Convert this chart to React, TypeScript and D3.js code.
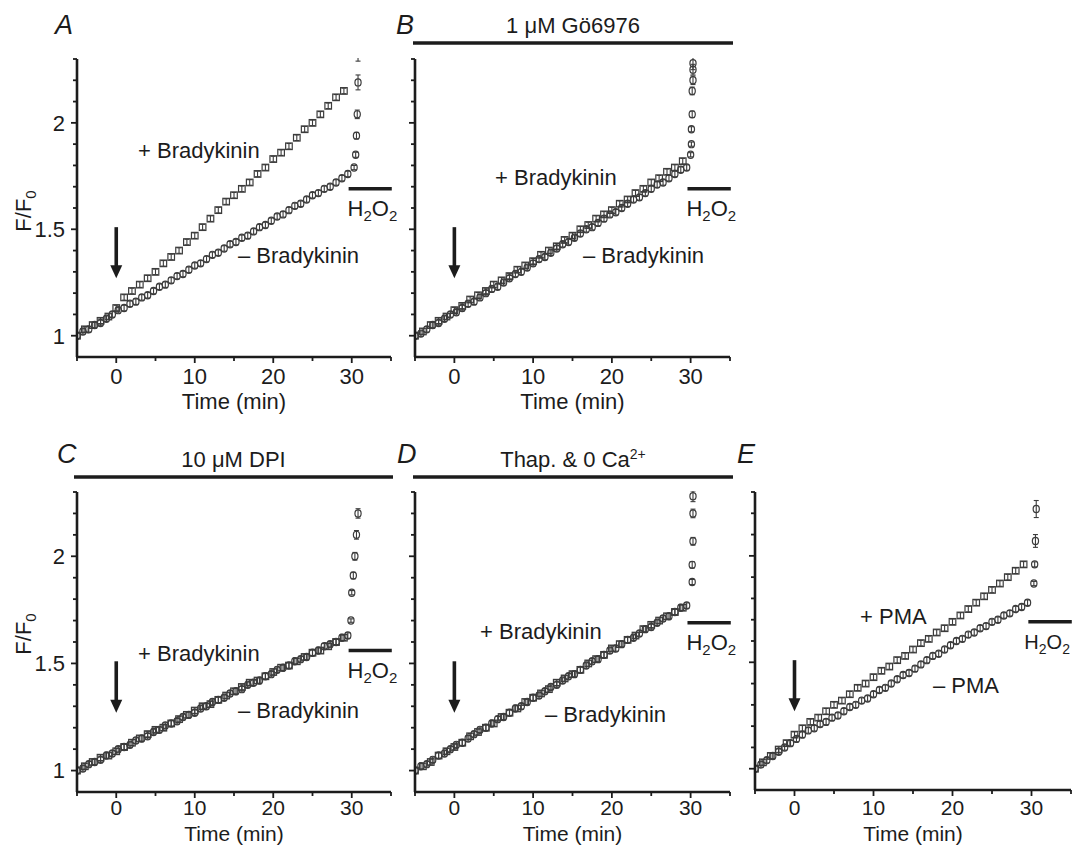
import React from "react";
import * as d3 from "d3";

// sampling grids (min)
const sqTimes = [-5, -4, -3, -2, -1, 0, 1, 2, 3, 4, 5, 6, 7, 8, 9, 10, 11, 12, 13, 14, 15, 16, 17, 18, 19, 20, 21, 22, 23, 24, 25, 26, 27, 28, 29];
const ciTimes = [-5, -4.25, -3.5, -2.75, -2, -1.25, -0.5, 0.25, 1, 1.75, 2.5, 3.25, 4, 4.75, 5.5, 6.25, 7, 7.75, 8.5, 9.25, 10, 10.75, 11.5, 12.25, 13, 13.75, 14.5, 15.25, 16, 16.75, 17.5, 18.25, 19, 19.75, 20.5, 21.25, 22, 22.75, 23.5, 24.25, 25, 25.75, 26.5, 27.25, 28, 28.75, 29.5];

const xTicks = [-5, 0, 5, 10, 15, 20, 25, 30, 35];
const xTickLabels = [0, 10, 20, 30];
const yTicks = [1.0, 1.1, 1.2, 1.3, 1.4, 1.5, 1.6, 1.7, 1.8, 1.9, 2.0, 2.1, 2.2, 2.3];
const yTickLabels = [1, 1.5, 2];
const baseErr = 0.013;

// A
const aSq = [1.00, 1.03, 1.05, 1.07, 1.09, 1.13, 1.18, 1.21, 1.24, 1.27, 1.30, 1.34, 1.37, 1.40, 1.44, 1.47, 1.51, 1.55, 1.59, 1.63, 1.66, 1.69, 1.72, 1.76, 1.79, 1.83, 1.86, 1.89, 1.93, 1.97, 2.00, 2.04, 2.08, 2.12, 2.15];
const aCi = [1.00, 1.02, 1.03, 1.05, 1.06, 1.08, 1.10, 1.12, 1.13, 1.15, 1.16, 1.18, 1.19, 1.21, 1.23, 1.24, 1.26, 1.28, 1.29, 1.31, 1.33, 1.34, 1.36, 1.38, 1.39, 1.41, 1.43, 1.44, 1.46, 1.47, 1.49, 1.51, 1.52, 1.54, 1.56, 1.57, 1.59, 1.61, 1.62, 1.64, 1.66, 1.67, 1.69, 1.70, 1.72, 1.74, 1.76];
const aColT = [30.3, 30.5, 30.6, 30.7, 30.8, 30.8];
const aColV = [1.79, 1.85, 1.94, 2.04, 2.19, 2.40];
const aColE = [0.01, 0.012, 0.015, 0.02, 0.035, 0.11];

// B
const bSq = [1.00, 1.02, 1.05, 1.07, 1.09, 1.12, 1.14, 1.17, 1.19, 1.21, 1.24, 1.26, 1.28, 1.31, 1.33, 1.35, 1.38, 1.40, 1.42, 1.45, 1.47, 1.50, 1.52, 1.55, 1.57, 1.59, 1.62, 1.64, 1.67, 1.69, 1.72, 1.74, 1.77, 1.79, 1.82];
const bCi = [1.00, 1.01, 1.03, 1.05, 1.06, 1.08, 1.10, 1.11, 1.13, 1.15, 1.16, 1.18, 1.20, 1.22, 1.23, 1.25, 1.27, 1.29, 1.30, 1.32, 1.34, 1.36, 1.37, 1.39, 1.41, 1.43, 1.44, 1.46, 1.48, 1.50, 1.51, 1.53, 1.55, 1.57, 1.58, 1.60, 1.62, 1.64, 1.65, 1.67, 1.69, 1.71, 1.72, 1.74, 1.76, 1.78, 1.79];
const bColT = [30.0, 30.1, 30.1, 30.2, 30.2, 30.3, 30.3, 30.3];
const bColV = [1.85, 1.90, 1.97, 2.04, 2.15, 2.20, 2.25, 2.28];
const bColE = [0.01, 0.01, 0.012, 0.015, 0.018, 0.02, 0.025, 0.03];

// C
const cSq = [1.00, 1.02, 1.04, 1.06, 1.07, 1.09, 1.11, 1.13, 1.15, 1.17, 1.19, 1.20, 1.22, 1.24, 1.26, 1.28, 1.30, 1.31, 1.33, 1.35, 1.37, 1.39, 1.41, 1.42, 1.44, 1.46, 1.48, 1.49, 1.51, 1.53, 1.55, 1.56, 1.58, 1.60, 1.62];
const cCi = [1.00, 1.01, 1.03, 1.04, 1.05, 1.07, 1.08, 1.10, 1.11, 1.12, 1.14, 1.15, 1.16, 1.18, 1.19, 1.21, 1.22, 1.23, 1.25, 1.26, 1.27, 1.29, 1.30, 1.32, 1.33, 1.34, 1.36, 1.37, 1.38, 1.40, 1.41, 1.42, 1.44, 1.45, 1.47, 1.48, 1.49, 1.51, 1.52, 1.53, 1.55, 1.56, 1.58, 1.59, 1.60, 1.62, 1.63];
const cColT = [29.9, 30.0, 30.2, 30.4, 30.6, 30.8];
const cColV = [1.70, 1.83, 1.91, 2.00, 2.10, 2.20];
const cColE = [0.008, 0.01, 0.015, 0.018, 0.02, 0.022];

// D
const dSq = [1.00, 1.02, 1.04, 1.07, 1.09, 1.11, 1.13, 1.16, 1.18, 1.20, 1.22, 1.25, 1.27, 1.29, 1.32, 1.34, 1.36, 1.38, 1.41, 1.43, 1.45, 1.47, 1.50, 1.52, 1.54, 1.57, 1.59, 1.61, 1.63, 1.66, 1.68, 1.70, 1.72, 1.74, 1.76];
const dCi = [1.00, 1.02, 1.03, 1.05, 1.07, 1.08, 1.10, 1.12, 1.13, 1.15, 1.17, 1.19, 1.20, 1.22, 1.24, 1.25, 1.27, 1.29, 1.30, 1.32, 1.34, 1.35, 1.37, 1.39, 1.40, 1.42, 1.44, 1.45, 1.47, 1.49, 1.51, 1.52, 1.54, 1.56, 1.57, 1.59, 1.61, 1.62, 1.64, 1.66, 1.67, 1.69, 1.71, 1.72, 1.74, 1.76, 1.77];
const dColT = [30.2, 30.2, 30.3, 30.3, 30.3];
const dColV = [1.88, 1.96, 2.07, 2.20, 2.28];
const dColE = [0.012, 0.015, 0.018, 0.02, 0.025];

// E
const eSq = [1.00, 1.03, 1.06, 1.09, 1.12, 1.16, 1.19, 1.22, 1.24, 1.27, 1.30, 1.32, 1.35, 1.38, 1.40, 1.43, 1.46, 1.48, 1.51, 1.53, 1.56, 1.59, 1.61, 1.64, 1.66, 1.69, 1.72, 1.75, 1.78, 1.81, 1.84, 1.87, 1.90, 1.93, 1.96];
const eCi = [1.00, 1.02, 1.04, 1.06, 1.08, 1.10, 1.12, 1.14, 1.16, 1.18, 1.19, 1.21, 1.22, 1.24, 1.25, 1.27, 1.29, 1.30, 1.32, 1.33, 1.35, 1.37, 1.38, 1.40, 1.42, 1.44, 1.45, 1.47, 1.49, 1.51, 1.53, 1.54, 1.56, 1.58, 1.60, 1.61, 1.63, 1.64, 1.66, 1.67, 1.69, 1.70, 1.72, 1.73, 1.75, 1.76, 1.78];
const eColT = [30.3, 30.4, 30.5, 30.6];
const eColV = [1.87, 1.96, 2.07, 2.22];
const eColE = [0.01, 0.012, 0.03, 0.04];

const FONT = "'Liberation Sans', Arial, Helvetica, sans-serif";
const INK = "#1c1c1c";
const MARK = "#3c3c3c";
const FS = 22;

type Pt = { t: number; v: number; e: number };
const zipPts = (ts: number[], vs: number[], es?: number[]): Pt[] =>
  vs.map((v, i) => ({ t: ts[i], v, e: es ? es[i] : baseErr }));

function Sub({ children }: { children: string }) {
  return <tspan dy={5} fontSize={15}>{children}</tspan>;
}

function H2O2({ small }: { small?: boolean }) {
  const s = small ? 14 : 15;
  return (
    <>
      H<tspan dy={5} fontSize={s}>2</tspan>
      <tspan dy={-5}>O</tspan>
      <tspan dy={5} fontSize={s}>2</tspan>
    </>
  );
}

function Panel({ cfg }: { cfg: any }) {
  const { id, left, right, top, bottom } = cfg;
  const x = d3.scaleLinear().domain([-5, 35]).range([left, right]);
  const y = d3.scaleLinear().domain([0.9, 2.3]).range([bottom, top]);
  const sq: Pt[] = zipPts(sqTimes, cfg.sq);
  const ci: Pt[] = zipPts(ciTimes, cfg.ci).concat(zipPts(cfg.colT, cfg.colV, cfg.colE));

  const err = (p: Pt, k: string) => (
    <g key={k} stroke={MARK} strokeWidth={1.1}>
      <line x1={x(p.t)} x2={x(p.t)} y1={y(p.v - p.e)} y2={y(p.v + p.e)} />
      <line x1={x(p.t) - 2.5} x2={x(p.t) + 2.5} y1={y(p.v - p.e)} y2={y(p.v - p.e)} />
      <line x1={x(p.t) - 2.5} x2={x(p.t) + 2.5} y1={y(p.v + p.e)} y2={y(p.v + p.e)} />
    </g>
  );

  const arrowTop = y(1.51);
  const arrowTip = y(1.27);
  const ax = x(0);
  const hx = x(29.6) - 1 - (cfg.h2o2Shift || 0);
  const tfs = cfg.lowRow ? 21 : FS;

  return (
    <g fontFamily={FONT} fill={INK}>
      <defs>
        <clipPath id={`clip-${id}`}>
          <rect x={left} y={top - 1} width={right - left + 10} height={bottom - top} />
        </clipPath>
      </defs>

      {/* panel letter */}
      <text x={cfg.letterX} y={cfg.letterY} fontSize={27} fontStyle="italic">{id}</text>

      {/* treatment bar */}
      {cfg.bar && (
        <g>
          <line x1={cfg.bar.x1} x2={cfg.bar.x2} y1={cfg.bar.y} y2={cfg.bar.y} stroke={INK} strokeWidth={3.5} />
          <text x={(cfg.bar.x1 + cfg.bar.x2) / 2} y={cfg.bar.y - 10} fontSize={FS} textAnchor="middle">{cfg.bar.label}</text>
        </g>
      )}

      {/* data */}
      <g clipPath={`url(#clip-${id})`}>
        {sq.map((p, i) => (
          <g key={`s${i}`}>
            <rect x={x(p.t) - 3.3} y={y(p.v) - 3.3} width={6.6} height={6.6} fill="none" stroke={MARK} strokeWidth={1.2} />
            {err(p, `se${i}`)}
          </g>
        ))}
        {ci.map((p, i) => (
          <g key={`c${i}`}>
            <ellipse cx={x(p.t)} cy={y(p.v)} rx={3.1} ry={3.6} fill="none" stroke={MARK} strokeWidth={1.2} />
            {err(p, `ce${i}`)}
          </g>
        ))}
      </g>

      {/* axes */}
      <line x1={left} x2={left} y1={top} y2={bottom} stroke={INK} strokeWidth={2.6} />
      <line x1={left - 1} x2={right} y1={bottom} y2={bottom} stroke={INK} strokeWidth={2.6} />
      {yTicks.map((v) => {
        const major = yTickLabels.includes(v);
        return <line key={`yt${v}`} x1={left - (major ? 6 : 4)} x2={left} y1={y(v)} y2={y(v)} stroke={INK} strokeWidth={1.8} />;
      })}
      {xTicks.map((t) => {
        const major = xTickLabels.includes(t);
        return <line key={`xt${t}`} x1={x(t)} x2={x(t)} y1={bottom} y2={bottom + (major ? 6 : 4)} stroke={INK} strokeWidth={1.8} />;
      })}
      {xTickLabels.map((t) => (
        <text key={`xl${t}`} x={x(t)} y={bottom + cfg.tickGap} fontSize={tfs} textAnchor="middle">{t}</text>
      ))}
      <text x={(left + right) / 2} y={bottom + cfg.titleGap} fontSize={tfs} textAnchor="middle">Time (min)</text>
      {cfg.yLabels && yTickLabels.map((v) => (
        <text key={`yl${v}`} x={left - 12} y={y(v)} dy="0.36em" fontSize={FS} textAnchor="end">{v}</text>
      ))}
      {cfg.yLabels && (
        <text transform={`translate(31,${cfg.yTitleY}) rotate(-90)`} fontSize={FS} textAnchor="middle">
          F/F<Sub>0</Sub>
        </text>
      )}

      {/* stimulus arrow */}
      <line x1={ax} x2={ax} y1={arrowTop} y2={arrowTip - 10} stroke={INK} strokeWidth={3.6} />
      <path d={`M${ax - 6},${arrowTip - 13} L${ax + 6},${arrowTip - 13} L${ax},${arrowTip} Z`} fill={INK} />

      {/* H2O2 bar */}
      <line x1={x(29.6)} x2={x(35.1)} y1={y(cfg.h2o2)} y2={y(cfg.h2o2)} stroke={INK} strokeWidth={3.5} />
      <text x={hx} y={y(cfg.h2o2) + 27} fontSize={cfg.h2o2Small ? 20 : FS}><H2O2 small={cfg.h2o2Small} /></text>

      {/* series labels */}
      <text x={cfg.plus[0]} y={cfg.plus[1]} fontSize={FS}>{cfg.plusText}</text>
      <text x={cfg.minus[0]} y={cfg.minus[1]} fontSize={FS}>{cfg.minusText}</text>
    </g>
  );
}

const panels = [
  {
    id: "A", left: 77, right: 391, top: 59, bottom: 357, letterX: 55, letterY: 34, tickGap: 27, titleGap: 52,
    sq: aSq, ci: aCi, colT: aColT, colV: aColV, colE: aColE, h2o2: 1.69,
    yLabels: true, yTitleY: 211,
    plus: [138, 158], minus: [238, 263], plusText: "+ Bradykinin", minusText: "– Bradykinin",
  },
  {
    id: "B", left: 415, right: 730, top: 59, bottom: 357, letterX: 396, letterY: 34, tickGap: 27, titleGap: 52,
    sq: bSq, ci: bCi, colT: bColT, colV: bColV, colE: bColE, h2o2: 1.69,
    bar: { x1: 413, x2: 733, y: 43, label: "1 μM Gö6976" },
    plus: [495, 185], minus: [583, 263], plusText: "+ Bradykinin", minusText: "– Bradykinin",
  },
  {
    id: "C", left: 77, right: 391, top: 492, bottom: 792, letterX: 57, letterY: 463, tickGap: 23, titleGap: 49, lowRow: true,
    sq: cSq, ci: cCi, colT: cColT, colV: cColV, colE: cColE, h2o2: 1.56,
    yLabels: true, yTitleY: 634,
    bar: { x1: 74, x2: 393, y: 477, label: "10 μM DPI" },
    plus: [138, 661], minus: [238, 718], plusText: "+ Bradykinin", minusText: "– Bradykinin",
  },
  {
    id: "D", left: 415, right: 730, top: 492, bottom: 792, letterX: 397, letterY: 463, tickGap: 23, titleGap: 49, lowRow: true,
    sq: dSq, ci: dCi, colT: dColT, colV: dColV, colE: dColE, h2o2: 1.69,
    bar: { x1: 413, x2: 733, y: 477, label: (<>Thap. &amp; 0 Ca<tspan dy={-8} fontSize={14}>2+</tspan></>) },
    plus: [480, 639], minus: [545, 722], plusText: "+ Bradykinin", minusText: "– Bradykinin",
  },
  {
    id: "E", left: 755, right: 1071, top: 492, bottom: 790, letterX: 737, letterY: 463, tickGap: 25, titleGap: 51, lowRow: true,
    sq: eSq, ci: eCi, colT: eColT, colV: eColV, colE: eColE, h2o2: 1.69, h2o2Shift: 3, h2o2Small: true,
    plus: [860, 624], minus: [933, 693], plusText: "+ PMA", minusText: "– PMA",
  },
];

export default function App() {
  return (
    <svg width={1074} height={847} style={{ position: "absolute", left: 0, top: 0, background: "#fff" }}>
      <rect width={1074} height={847} fill="#fff" />
      {panels.map((p) => <Panel key={p.id} cfg={p} />)}
    </svg>
  );
}
